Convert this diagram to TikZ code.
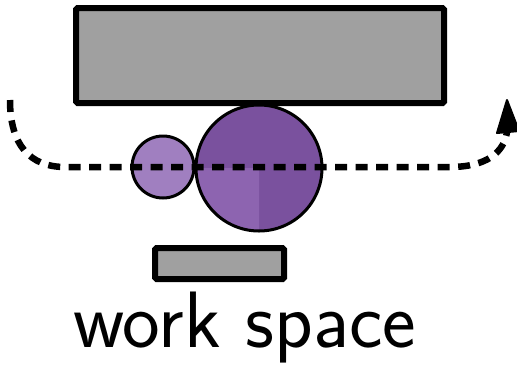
\documentclass[tikz,border=0pt]{standalone}
\usetikzlibrary{calc}
\definecolor{boxgray}{HTML}{A0A0A0}
\definecolor{purpdark}{HTML}{7A519E}
\definecolor{purpmid}{HTML}{8D64B0}
\definecolor{purplight}{HTML}{A07FC0}
\tikzset{
  graybox/.style={draw, line width=6pt, fill=boxgray, inner sep=0pt, rounded corners=1.5pt},
  disc/.style={circle, draw, line width=3pt, inner sep=0pt},
  track/.style={line width=6.5pt, dash pattern=on 12pt off 8.5pt},
  tiphead/.style={fill=black, draw=black, line width=2pt, line join=round},
}
\begin{document}
\begin{tikzpicture}[x=1pt,y=-1pt]
\useasboundingbox (0,0) rectangle (517,365);
% top box
\node[graybox, minimum width=368pt, minimum height=95pt] (top) at (260,55.5) {};
% small box
\node[graybox, minimum width=129pt, minimum height=31pt] (bottom) at (219.5,263.5) {};
% small circle
\node[disc, fill=purplight, minimum size=62pt] (small) at (163,167) {};
% big circle fills
\fill[purpdark] (259,168) circle[radius=63];
\fill[purpmid] (259,168) -- ++(0,63) arc[start angle=90, end angle=180, radius=63] -- cycle;
\node[disc, minimum size=126pt] (big) at (259,168) {};
% dashed track
\coordinate (start) at (10,100);
\coordinate (a) at (65,167);
\coordinate (b) at (450,167);
\coordinate (tipbase) at (507,132);
\coordinate (tip) at (507,100);
\draw[track] (start) .. controls (10,145) and (30,167) .. (a) -- (b) .. controls (487,167) and (504,152) .. (tipbase);
\path[tiphead] (tip) -- ($(tipbase)+(-10,1)$) -- ($(tipbase)+(12,-1)$) -- cycle;
% label
\node[font=\sffamily\fontsize{80}{86}\selectfont, anchor=base, inner sep=0pt] (label) at (245,347) {work space};
\end{tikzpicture}
\end{document}
